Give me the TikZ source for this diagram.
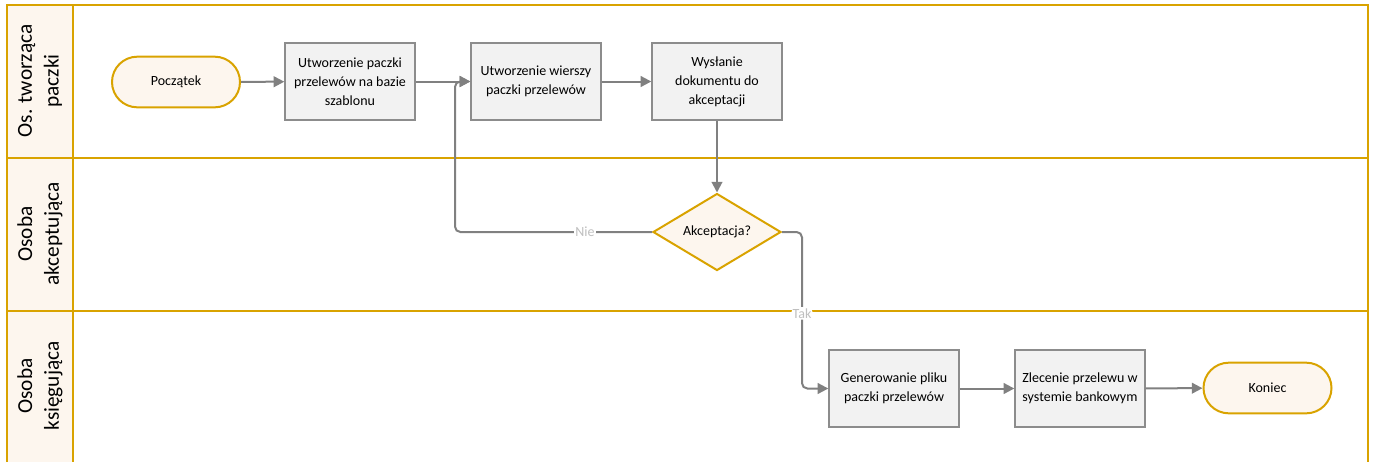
\documentclass[tikz,border=0pt]{standalone}
\usepackage{fontspec}
\setmainfont{Carlito}
\usetikzlibrary{shapes.geometric, arrows.meta, positioning}

\definecolor{lanegold}{HTML}{D9A300}
\definecolor{cream}{HTML}{FDF6EE}
\definecolor{boxfill}{HTML}{F2F2F2}
\definecolor{boxline}{HTML}{8C8C8C}
\definecolor{flowgray}{HTML}{808080}
\definecolor{lblgray}{HTML}{BFBFBF}

\tikzset{
  lane/.style={draw=lanegold, line width=2.2pt},
  lanename/.style={rotate=90, align=center, font=\fontsize{16}{20}\selectfont},
  task/.style={draw=boxline, fill=boxfill, line width=1.5pt, minimum width=97pt,
    minimum height=57.75pt, align=center, font=\fontsize{10.5}{14.25}\selectfont},
  terminal/.style={draw=lanegold, fill=cream, line width=1.5pt, rounded corners=19pt,
    minimum width=96pt, minimum height=38pt, font=\fontsize{10.5}{14.25}\selectfont},
  decision/.style={diamond, draw=lanegold, fill=cream, line width=1.5pt, shape aspect=1.66,
    inner sep=0pt, minimum width=96pt, minimum height=57.75pt, font=\fontsize{10.5}{14.25}\selectfont},
  flow/.style={draw=flowgray, line width=1.5pt, -{Triangle[length=8pt,width=8pt]}},
  lbl/.style={fill=white, text=lblgray, inner sep=1pt, font=\fontsize{10.5}{12}\selectfont}
}

\begin{document}
\begin{tikzpicture}[x=0.75pt, y=-0.75pt]
\useasboundingbox (0,0) rectangle (1375,462);

% lanes
\fill[cream] (7,5) rectangle (73,462);
\draw[lane] (7,462) -- (7,5) -- (1368,5) -- (1368,462);
\draw[lane] (73,5) -- (73,462);
\draw[lane] (7,158) -- (1368,158);
\draw[lane] (7,311) -- (1368,311);
\node[lanename] (l1) at (40,81) {Os. tworząca\\paczki};
\node[lanename] (l2) at (40,234) {Osoba\\akceptująca};
\node[lanename] (l3) at (40,386) {Osoba\\księgująca};

% nodes
\node[terminal] (start) at (176,82) {Początek};
\node[task] (szablon) at (350,81.5) {Utworzenie paczki\\przelewów na bazie\\szablonu};
\node[task] (wiersze) at (536,81.5) {Utworzenie wierszy\\paczki przelewów};
\node[task] (wyslanie) at (717,81.5) {Wysłanie\\dokumentu do\\akceptacji};
\node[decision] (akc) at (717,232) {Akceptacja?};
\node[task] (plik) at (894,388.5) {Generowanie pliku\\paczki przelewów};
\node[task] (zlecenie) at (1080,388.5) {Zlecenie przelewu w\\systemie bankowym};
\node[terminal] (koniec) at (1267.5,388) {Koniec};

\coordinate (niebend) at (455,232);
\coordinate (takbend) at (802,232);

% connectors
\draw[flow] (start) -- (szablon);
\draw[flow] (szablon) -- (wiersze);
\draw[flow] (wiersze) -- (wyslanie);
\draw[flow] (wyslanie) -- (akc);
\draw[flow, rounded corners=4pt] (akc.west) -- node[lbl, pos=0.34] {Nie} (niebend) |- (wiersze.west);
\draw[flow, rounded corners=4pt] (akc.east) -- (takbend) -- node[lbl, pos=0.52] {Tak} (takbend |- plik.west) -- (plik.west);
\draw[flow] (plik) -- (zlecenie);
\draw[flow] (zlecenie) -- (koniec);
\end{tikzpicture}
\end{document}
